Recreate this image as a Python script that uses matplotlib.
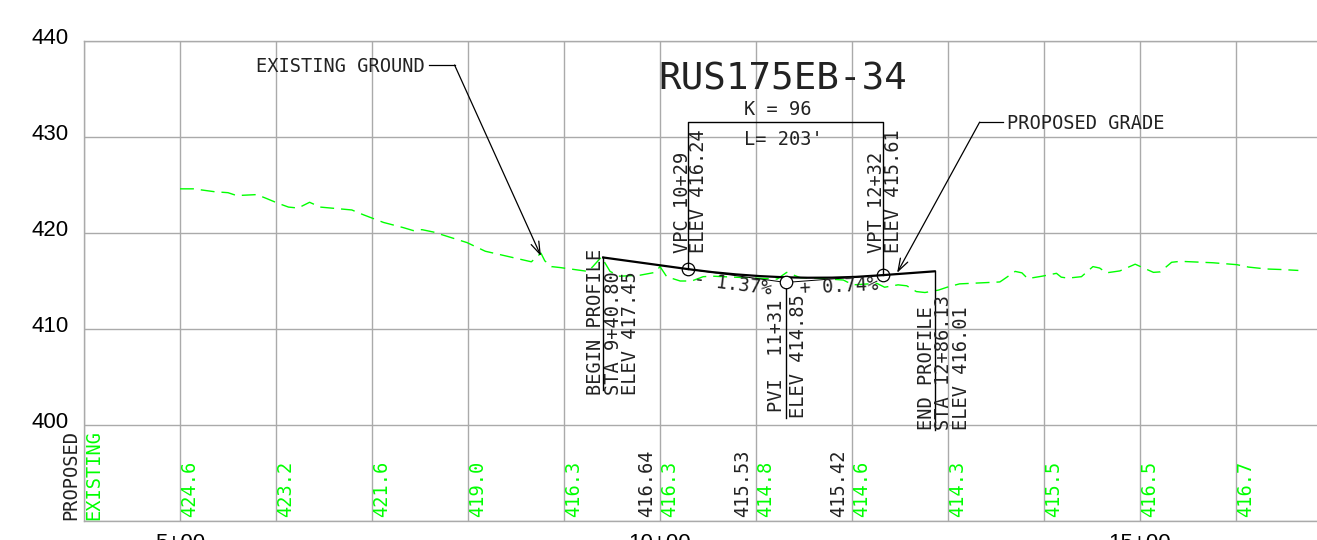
import matplotlib
matplotlib.use("Agg")

import matplotlib.pyplot as plt
from matplotlib.transforms import ScaledTranslation

# station in feet, elevation in feet
ground_sta = [500, 514, 536, 550, 559, 580, 590, 602, 613, 623, 635, 646, 668, 679, 691, 712, 733, 743, 752, 764,
              799, 818, 866, 876, 880, 887, 896, 925, 930, 939, 948, 958, 979, 995, 1000, 1007, 1021, 1033, 1045,
              1055, 1122, 1132, 1146, 1163, 1191, 1201, 1226, 1234, 1248, 1257, 1267, 1276, 1290, 1299, 1312, 1333,
              1354, 1357, 1370, 1377, 1383, 1398, 1413, 1418, 1425, 1439, 1451, 1458, 1465, 1479, 1495, 1514, 1521,
              1533, 1542, 1576, 1601, 1613, 1632, 1646, 1665]
ground_elev = [424.6, 424.6, 424.3, 424.2, 423.9, 424.0, 423.6, 423.1, 422.7, 422.6, 423.2, 422.7, 422.5, 422.4,
               421.9, 421.1, 420.55, 420.25, 420.35, 420.1, 419.0, 418.1, 417.0, 417.9, 417.1, 416.5, 416.4, 416.0,
               416.5, 417.5, 416.0, 415.5, 415.6, 415.9, 416.5, 415.45, 415.0, 415.0, 415.45, 415.5, 415.2, 415.9,
               415.35, 415.3, 415.1, 414.6, 414.75, 414.35, 414.6, 414.5, 413.9, 413.8, 414.05, 414.35, 414.7, 414.8,
               414.9, 415.1, 416.0, 415.85, 415.25, 415.5, 415.8, 415.4, 415.3, 415.45, 416.5, 416.35, 415.85,
               416.05, 416.75, 415.9, 415.95, 416.95, 417.05, 416.9, 416.7, 416.45, 416.25, 416.2, 416.1]

grade_sta = [940.8, 1029, 1054, 1079, 1104, 1129, 1154, 1179, 1204, 1232, 1286.13]
grade_elev = [417.45, 416.24, 415.93, 415.69, 415.51, 415.39, 415.34, 415.35, 415.43, 415.61, 416.01]

tangent_sta = [1029, 1131, 1232]
tangent_elev = [416.24, 414.85, 415.61]

grid_sta = [400, 500, 600, 700, 800, 900, 1000, 1100, 1200, 1300, 1400, 1500, 1600]
sta_labels = ["", "5+00", "", "", "", "", "10+00", "", "", "", "", "15+00", ""]
elev_ticks = [390, 400, 410, 420, 430, 440]
elev_labels = ["", "400", "410", "420", "430", "440"]

existing_sta = [500, 600, 700, 800, 900, 1000, 1100, 1200, 1300, 1400, 1500, 1600]
existing_vals = ["424.6", "423.2", "421.6", "419.0", "416.3", "416.3", "414.8", "414.6", "414.3", "415.5", "416.5",
                 "416.7"]
proposed_sta = [1000, 1100, 1200]
proposed_vals = ["416.64", "415.53", "415.42"]

GREEN = "#00ff00"
GRID = "#aaaaaa"
MONO = "DejaVu Sans Mono"
FS = 13.4
INK = "#222222"

fig = plt.figure(figsize=(13.17, 5.40), dpi=100)
ax = fig.add_axes([84 / 1317, 19 / 540, 1 - 84 / 1317, 480 / 540])
ax.set_xlim(400, 1684.4)
ax.set_ylim(390, 440)

ax.set_xticks(grid_sta)
ax.set_xticklabels(sta_labels, fontname="Liberation Sans", fontsize=16)
ax.set_yticks(elev_ticks)
ax.set_yticklabels(elev_labels, fontname="Liberation Sans", fontsize=16)
ax.tick_params(axis="both", length=0)
ax.tick_params(axis="x", pad=8.5)
ax.tick_params(axis="y", pad=11)
ax.grid(True, color=GRID, lw=1.0)
ax.set_axisbelow(True)
for name, spine in ax.spines.items():
    spine.set_visible(name in ("top", "left", "bottom"))
    spine.set_color(GRID)
    spine.set_linewidth(1.0)

shift = ScaledTranslation(0, 3.5 / 72, fig.dpi_scale_trans)
for lbl in ax.get_yticklabels():
    lbl.set_transform(lbl.get_transform() + shift)

ax.plot(ground_sta, ground_elev, color=GREEN, lw=1.0, ls=(0, (10, 5)), clip_on=False)
ax.plot(tangent_sta, tangent_elev, color="black", lw=0.7)
ax.plot(grade_sta, grade_elev, color="black", lw=1.6)

# callout stems and bracket
ax.plot([1029, 1029, 1232, 1232], [416.24, 431.6, 431.6, 415.61], color="black", lw=1.0)
ax.plot([940.8, 940.8], [417.45, 403.6], color="black", lw=1.0)
ax.plot([1131, 1131], [414.85, 400.75], color="black", lw=1.0)
ax.plot([1286.13, 1286.13], [416.01, 399.5], color="black", lw=1.0)

ax.plot([1029, 1232], [416.24, 415.61], ls="none", marker="o", ms=9, mfc="none", mec="black", mew=0.9)
ax.plot([1131], [414.85], ls="none", marker="o", ms=9, mfc="white", mec="black", mew=0.9, zorder=5)


def vtext(sta, elev, s, color=INK):
    ax.text(sta, elev, s, rotation=90, ha="center", va="bottom", family=MONO, fontsize=FS, color=color)


vtext(933.2, 403.1, "BEGIN PROFILE")
vtext(951.5, 403.1, "STA 9+40.80")
vtext(969.7, 403.1, "ELEV 417.45")
vtext(1023, 417.9, "VPC 10+29")
vtext(1040.5, 417.9, "ELEV 416.24")
vtext(1226, 417.9, "VPT 12+32")
vtext(1243.5, 417.9, "ELEV 415.61")
vtext(1121, 401.35, "PVI  11+31")
vtext(1144.7, 400.7, "ELEV 414.85")
vtext(1278, 399.5, "END PROFILE")
vtext(1295.7, 399.5, "STA 12+86.13")
vtext(1314.5, 399.5, "ELEV 416.01")

ax.text(1127.6, 436, "RUS175EB-34", ha="center", va="center", family=MONO, fontsize=27, color=INK)
ax.text(1087, 432.9, "K = 96", ha="left", va="center", family=MONO, fontsize=FS, color=INK)
ax.text(1088, 429.7, "L= 203'", ha="left", va="center", family=MONO, fontsize=FS, color=INK)
ax.text(1076, 414.7, "- 1.37%", ha="center", va="center", rotation=-7, family=MONO, fontsize=FS, color=INK)
ax.text(1186.5, 414.4, "+ 0.74%", ha="center", va="center", rotation=3, family=MONO, fontsize=FS, color=INK)

# leaders
ax.text(579, 437.35, "EXISTING GROUND", ha="left", va="center", family=MONO, fontsize=FS, color=INK)
ax.plot([759.4, 786], [437.5, 437.5], color="black", lw=0.9)
ax.annotate("", xy=(876, 417.6), xytext=(786, 437.5),
            arrowprops=dict(arrowstyle="->,head_length=0.9,head_width=0.3", color="black", lw=0.9,
                            shrinkA=0, shrinkB=0))
ax.text(1361.5, 431.45, "PROPOSED GRADE", ha="left", va="center", family=MONO, fontsize=FS, color=INK)
ax.plot([1357, 1333], [431.55, 431.55], color="black", lw=0.9)
ax.annotate("", xy=(1247, 415.85), xytext=(1333, 431.55),
            arrowprops=dict(arrowstyle="->,head_length=0.9,head_width=0.3", color="black", lw=0.9,
                            shrinkA=0, shrinkB=0))

# profile table along the bottom
for sta, val in zip(existing_sta, existing_vals):
    ax.annotate(val, (sta, 390), xytext=(9.5, 4), textcoords="offset pixels", rotation=90, ha="center", va="bottom",
                family=MONO, fontsize=FS, color=GREEN)
for sta, val in zip(proposed_sta, proposed_vals):
    ax.annotate(val, (sta, 390), xytext=(-13, 4), textcoords="offset pixels", rotation=90, ha="center", va="bottom",
                family=MONO, fontsize=FS, color=INK)
ax.annotate("PROPOSED", (400, 390), xytext=(-13, 1), textcoords="offset pixels", rotation=90, ha="center",
            va="bottom", family=MONO, fontsize=FS, color=INK, annotation_clip=False)
ax.annotate("EXISTING", (400, 390), xytext=(9.5, 1), textcoords="offset pixels", rotation=90, ha="center",
            va="bottom", family=MONO, fontsize=FS, color=GREEN, annotation_clip=False)

fig.savefig("out.png", dpi=100)
